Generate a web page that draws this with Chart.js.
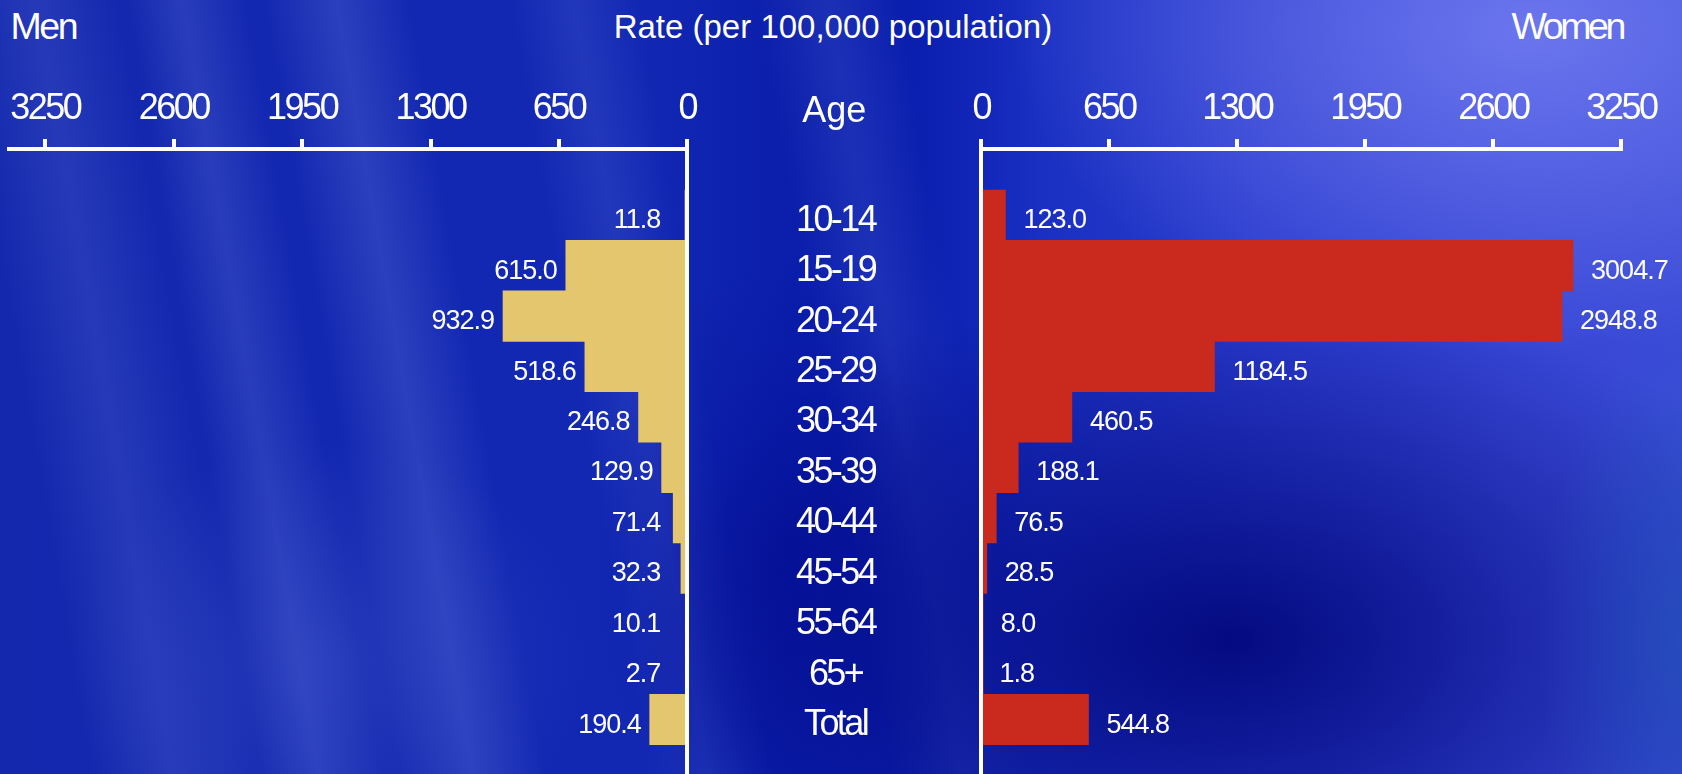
<!DOCTYPE html>
<html>
<head>
<meta charset="utf-8">
<script src="https://cdn.jsdelivr.net/npm/chart.js@4.4.1/dist/chart.umd.min.js"></script>
<style>
html,body{margin:0;padding:0;}
body{
  width:1682px;height:774px;overflow:hidden;position:relative;
  font-family:"Liberation Sans", Arial, sans-serif;
  background:
    radial-gradient(ellipse 520px 320px at 1530px 30px, rgba(112,122,240,0.9), rgba(112,122,240,0) 100%),
    radial-gradient(ellipse 140px 300px at 1680px 640px, rgba(30,95,185,0.45), rgba(30,95,185,0) 100%),
    radial-gradient(ellipse 600px 360px at 1230px 640px, rgba(2,8,125,0.95), rgba(2,8,125,0) 100%),
    radial-gradient(ellipse 200px 300px at 790px 560px, rgba(3,14,150,0.6), rgba(3,14,150,0) 100%),
    radial-gradient(ellipse 260px 220px at 330px 660px, rgba(75,95,205,0.3), rgba(75,95,205,0) 100%),
    linear-gradient(80deg,
      rgba(90,110,215,0) 5%, rgba(90,110,215,0.25) 9.5%, rgba(90,110,215,0) 14%,
      rgba(90,110,215,0) 14.5%, rgba(90,110,215,0.3) 17.5%, rgba(90,110,215,0) 21%,
      rgba(90,110,215,0) 22%, rgba(90,110,215,0.34) 26%, rgba(90,110,215,0) 30%,
      rgba(90,110,215,0) 35.5%, rgba(90,110,215,0.22) 39%, rgba(90,110,215,0) 42.5%,
      rgba(90,110,215,0) 49%, rgba(90,110,215,0.22) 53%, rgba(90,110,215,0) 57%),
    linear-gradient(90deg, #1428ae 0%, #1228b3 38%, #0a1eab 47%, #0b1fb0 55%, #1a30c2 62%, #2b3dce 75%, #3848d6 90%, #3a4bd6 100%);
}
#chartBox{position:absolute;left:0;top:0;width:1682px;height:774px;}
.hdr{position:absolute;color:#fff;white-space:nowrap;line-height:1;}
</style>
</head>
<body>
<div class="hdr" id="hMen" style="left:10.5px;top:7.5px;font-size:37.5px;letter-spacing:-2.4px;"></div>
<div class="hdr" id="hRate" style="left:832.9px;top:10.4px;font-size:33px;transform:translateX(-50%);"></div>
<div class="hdr" id="hWomen" style="right:59px;top:7.5px;font-size:37.5px;letter-spacing:-3.4px;"></div>
<div id="chartBox"><canvas id="c" width="1682" height="774"></canvas></div>
<script>
// ---- data ----
const ageGroups = ['10-14','15-19','20-24','25-29','30-34','35-39','40-44','45-54','55-64','65+','Total'];
const menRates = [11.8, 615.0, 932.9, 518.6, 246.8, 129.9, 71.4, 32.3, 10.1, 2.7, 190.4];
const womenRates = [123.0, 3004.7, 2948.8, 1184.5, 460.5, 188.1, 76.5, 28.5, 8.0, 1.8, 544.8];
const rateTicks = [0, 650, 1300, 1950, 2600, 3250];
const titleMen = 'Men';
const titleWomen = 'Women';
const titleRate = 'Rate (per 100,000 population)';
const titleAge = 'Age';

document.getElementById('hMen').textContent = titleMen;
document.getElementById('hWomen').textContent = titleWomen;
document.getElementById('hRate').textContent = titleRate;

// ---- styling / layout constants ----
const FONT = '"Liberation Sans", Arial, sans-serif';
const MEN_COLOR = '#E3C66D';
const WOMEN_COLOR = '#C92A1D';
const TOP_H = 149;
const LEFT_AXIS_MAX = 3436;
const RIGHT_AXIS_MAX = 3250;
const Y_MIN = -1.313, Y_MAX = 11.08;

const menData = menRates.map((v, i) => ({x: v, y: i}));
const womenData = womenRates.map((v, i) => ({x: v, y: i}));

function fitTop(scale) { scale.height = TOP_H; scale.paddingLeft = 0; scale.paddingRight = 0; scale.paddingTop = 0; scale.paddingBottom = 0; }
function setRateTicks(scale) { scale.ticks = rateTicks.map(v => ({value: v})); }

function rateAxis(extra) {
  return Object.assign({
    type: 'linear', position: 'top', stack: 'top', min: 0, offset: false,
    afterBuildTicks: setRateTicks, afterFit: fitTop,
    ticks: {color: '#fff', font: {family: FONT, size: 36, lineHeight: 1.2}, padding: 8,
            autoSkip: false, maxRotation: 0, minRotation: 0, callback: v => String(v)},
    grid: {display: true, drawOnChartArea: true, drawTicks: true,
           color: c => (c.tick && c.tick.value === 0) ? '#ffffff' : 'rgba(0,0,0,0)',
           lineWidth: 4, tickColor: '#ffffff', tickWidth: 4, tickLength: 10, z: 1},
    border: {display: true, color: '#ffffff', width: 4, z: 1}
  }, extra);
}

const textPlugin = {
  id: 'textPlugin',
  beforeDraw(chart) { chart.ctx.letterSpacing = '-2.5px'; },
  afterDraw(chart) {
    const ctx = chart.ctx;
    const ys = chart.scales.y, xm = chart.scales.xM, xl = chart.scales.xL;
    const cx = (xm.left + xm.right) / 2;
    ctx.save();
    ctx.fillStyle = '#ffffff';
    ctx.textBaseline = 'alphabetic';
    // Age header
    ctx.letterSpacing = '0px';
    ctx.font = '36px ' + FONT;
    ctx.textAlign = 'center';
    ctx.fillText(titleAge, cx, xm.bottom - 27.3);
    // age group labels
    ctx.letterSpacing = '-2.6px';
    ctx.font = '36px ' + FONT;
    ageGroups.forEach((g, i) => ctx.fillText(g, cx + 1.3, ys.getPixelForValue(i) + 15.5));
    // value labels
    ctx.letterSpacing = '-1px';
    ctx.font = '27px ' + FONT;
    const zeroL = xl.getPixelForValue(0);
    ctx.textAlign = 'right';
    chart.getDatasetMeta(0).data.forEach((bar, i) => {
      const x = Math.min(bar.x - 9, zeroL - 27);
      ctx.fillText(menRates[i].toFixed(1), x, bar.y + 13);
    });
    ctx.textAlign = 'left';
    chart.getDatasetMeta(1).data.forEach((bar, i) => {
      ctx.fillText(womenRates[i].toFixed(1), bar.x + 18, bar.y + 13);
    });
    ctx.restore();
  }
};

new Chart(document.getElementById('c'), {
  type: 'bar',
  data: {
    datasets: [
      {label: titleMen, data: menData, xAxisID: 'xL', yAxisID: 'y', backgroundColor: MEN_COLOR,
       borderWidth: 0, grouped: false, barPercentage: 1, categoryPercentage: 1},
      {label: titleWomen, data: womenData, xAxisID: 'xR', yAxisID: 'y', backgroundColor: WOMEN_COLOR,
       borderWidth: 0, grouped: false, barPercentage: 1, categoryPercentage: 1}
    ]
  },
  options: {
    indexAxis: 'y',
    responsive: false,
    animation: false,
    events: [],
    layout: {padding: {left: 8.6, right: 60.6, top: 0, bottom: 0}},
    plugins: {legend: {display: false}, tooltip: {enabled: false}, title: {display: false}},
    scales: {
      xL: rateAxis({reverse: true, max: LEFT_AXIS_MAX, weight: 3, stackWeight: 678.7}),
      xM: {type: 'linear', position: 'top', stack: 'top', weight: 2, stackWeight: 293.9, min: 0, max: 1,
           afterFit: fitTop, ticks: {display: false}, grid: {display: false}, border: {display: false}},
      xR: rateAxis({reverse: false, max: RIGHT_AXIS_MAX, weight: 1, stackWeight: 640.2}),
      y: {type: 'linear', display: false, reverse: true, offset: false, min: Y_MIN, max: Y_MAX,
          afterBuildTicks: s => { s.ticks = ageGroups.map((_, i) => ({value: i})); }}
    }
  },
  plugins: [textPlugin]
});
</script>
</body>
</html>
